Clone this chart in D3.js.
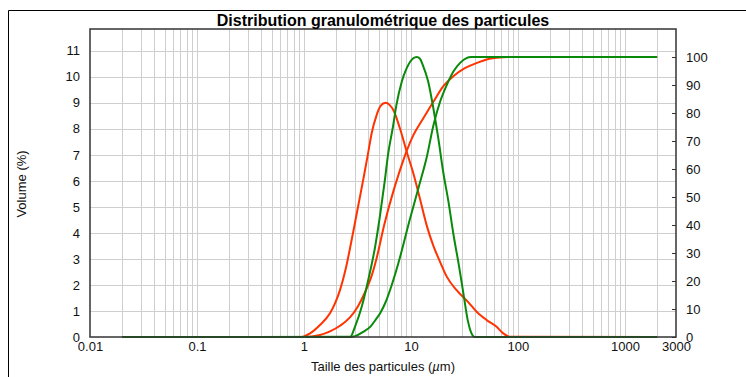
<!DOCTYPE html>
<html>
<head>
<meta charset="utf-8">
<script src="https://cdn.jsdelivr.net/npm/d3@7"></script>
<style>
  html, body { margin: 0; padding: 0; background: #fff; }
  svg { display: block; font-family: "Liberation Sans", Arial, Helvetica, sans-serif; }
</style>
</head>
<body>
<svg id="chart" width="746" height="377"></svg>
<script>
// Particle size (µm) vs. volume density (%) — red sample
const redDensity = [
  [0.02, 0], [0.95, 0], [1.14, 0.14], [1.41, 0.46], [1.75, 0.91], [1.95, 1.29],
  [2.17, 1.8], [2.45, 2.6], [2.69, 3.4], [3.0, 4.4], [3.34, 5.4], [3.6, 6.1],
  [3.95, 7.0], [4.3, 7.85], [4.75, 8.5], [5.2, 8.88], [5.8, 9.0], [6.3, 8.92],
  [6.84, 8.72], [7.88, 8.02], [9.12, 7.12], [10.5, 6.3], [12.1, 5.33], [14.0, 4.3],
  [16.2, 3.5], [18.7, 2.89], [21.6, 2.32], [26.7, 1.8], [34.3, 1.34], [41.1, 0.97],
  [51, 0.65], [63.2, 0.39], [72.9, 0.14], [84, 0.01], [2000, 0]
];
// Cumulative volume (%) — red sample
const redCumulative = [
  [0.02, 0], [1.0, 0], [1.41, 0.7], [1.75, 2.0], [2.17, 4.0], [2.69, 7.0],
  [3.18, 10.8], [3.7, 15.8], [4.3, 22], [4.8, 28.5], [5.62, 40], [6.84, 52],
  [7.88, 59.5], [9.12, 66.5], [10.5, 72], [13, 78], [16.2, 84], [20, 89.5],
  [25, 93.2], [31, 95.8], [36.3, 97], [42, 98], [51, 99.1], [63, 99.7],
  [80, 100], [2000, 100]
];
// Volume density (%) — green sample
const greenDensity = [
  [0.02, 0], [2.71, 0.01], [3.0, 0.4], [3.47, 1.17], [3.98, 2.18], [4.62, 3.46],
  [5.15, 4.7], [5.69, 6.0], [6.1, 7.0], [6.8, 8.1], [7.3, 8.9], [8.2, 9.81],
  [9.1, 10.32], [10.5, 10.71], [11.3, 10.76], [12.1, 10.7], [12.9, 10.45],
  [14.5, 9.81], [16.2, 8.78], [18.0, 7.64], [20.0, 6.35], [22.4, 5.2], [25.0, 3.92],
  [28.0, 2.77], [31.1, 1.6], [34.1, 0.6], [36.3, 0.2], [39.6, 0], [2000, 0]
];
// Cumulative volume (%) — green sample
const greenCumulative = [
  [0.02, 0], [2.7, 0], [3.0, 0.3], [3.58, 1.8], [4.2, 3.8], [4.7, 6.3],
  [5.15, 8.5], [5.8, 12.5], [6.6, 18.5], [7.9, 28.5], [9.6, 41], [11.9, 54],
  [14, 64], [16.2, 75.5], [18.7, 84], [21.6, 90], [25, 94.9], [28.8, 97.9],
  [33, 99.6], [36.3, 100], [2000, 100]
];

const sizeTicks = [0.01, 0.1, 1, 10, 100, 1000, 3000];
const volumeTicks = [0, 1, 2, 3, 4, 5, 6, 7, 8, 9, 10, 11];
const cumulativeTicks = [0, 10, 20, 30, 40, 50, 60, 70, 80, 90, 100];

const titleText = "Distribution granulométrique des particules";
const yTitle = "Volume (%)";

const svg = d3.select("#chart");
const plot = { left: 90, right: 676, top: 29, bottom: 337 };

// Outer panel edge
svg.append("path")
  .attr("d", `M8.5,377 V10.5 H746`)
  .attr("fill", "none").attr("stroke", "#000").attr("stroke-width", 1);

const densityMax = d3.max(greenDensity.concat(redDensity), d => d[1]);

const x = d3.scaleLog().domain([0.01, 3000]).range([plot.left, plot.right]);
const yL = d3.scaleLinear().domain([0, densityMax * 1.1]).range([plot.bottom, plot.top]);
const yR = d3.scaleLinear().domain([0, 110]).range([plot.bottom, plot.top]);

// Grid: every 1..9 × 10^k on the log axis
const gridX = [];
for (let e = -2; e <= 3; e++) {
  for (let m = 1; m <= 9; m++) {
    const v = m * Math.pow(10, e);
    if (v > 0.01 * 1.0001 && v < 3000 * 0.9999) gridX.push(v);
  }
}
const grid = svg.append("g").attr("stroke", "#cfcfcf").attr("stroke-width", 1);
grid.selectAll("line.v").data(gridX).join("line")
  .attr("class", "v")
  .attr("x1", d => Math.round(x(d)) + 0.5).attr("x2", d => Math.round(x(d)) + 0.5)
  .attr("y1", plot.top).attr("y2", plot.bottom);
grid.selectAll("line.h").data(volumeTicks.filter(d => d > 0)).join("line")
  .attr("class", "h")
  .attr("x1", plot.left).attr("x2", plot.right)
  .attr("y1", d => Math.round(yL(d)) + 0.5).attr("y2", d => Math.round(yL(d)) + 0.5);

// Curves
const line = d3.line()
  .x(d => x(d[0]))
  .curve(d3.curveMonotoneX);

const series = [
  { data: redDensity, y: yL, color: "#ff3300" },
  { data: redCumulative, y: yR, color: "#ff3300" },
  { data: greenDensity, y: yL, color: "#0a8a0a" },
  { data: greenCumulative, y: yR, color: "#0a8a0a" }
];
svg.append("g").selectAll("path").data(series).join("path")
  .attr("fill", "none")
  .attr("stroke", d => d.color)
  .attr("stroke-width", 2)
  .attr("stroke-linejoin", "round")
  .attr("d", d => line.y(p => d.y(p[1]))(d.data));

// Plot frame
svg.append("rect")
  .attr("x", plot.left).attr("y", plot.top)
  .attr("width", plot.right - plot.left).attr("height", plot.bottom - plot.top)
  .attr("fill", "none").attr("stroke", "#333").attr("stroke-width", 1.5);

// Left axis labels
const axisL = d3.axisLeft(yL).tickValues(volumeTicks).tickSize(0).tickPadding(10);
const gL = svg.append("g").attr("transform", `translate(${plot.left},0)`).call(axisL);
gL.select(".domain").remove();
gL.selectAll("text").attr("font-size", 13).attr("fill", "#111")
  .attr("font-family", "Liberation Sans, Arial, sans-serif");

// Right axis with short inward ticks
const axisR = d3.axisRight(yR).tickValues(cumulativeTicks).tickSize(-4).tickPadding(10);
const gR = svg.append("g").attr("transform", `translate(${plot.right},0)`).call(axisR);
gR.select(".domain").remove();
gR.selectAll(".tick line").attr("stroke", "#333");
gR.selectAll("text").attr("font-size", 13).attr("fill", "#111")
  .attr("font-family", "Liberation Sans, Arial, sans-serif");

// Bottom axis labels
const axisB = d3.axisBottom(x).tickValues(sizeTicks).tickFormat(d => String(d)).tickSize(0).tickPadding(5);
const gB = svg.append("g").attr("transform", `translate(0,${plot.bottom})`).call(axisB);
gB.select(".domain").remove();
gB.selectAll("text").attr("font-size", 13).attr("fill", "#111")
  .attr("font-family", "Liberation Sans, Arial, sans-serif");

// Titles
svg.append("text")
  .attr("x", (plot.left + plot.right) / 2).attr("y", 26)
  .attr("text-anchor", "middle").attr("font-size", 16).attr("font-weight", "bold")
  .attr("fill", "#000")
  .text(titleText);

const xt = svg.append("text")
  .attr("x", (plot.left + plot.right) / 2).attr("y", 371)
  .attr("text-anchor", "middle").attr("font-size", 13).attr("fill", "#111");
xt.append("tspan").text("Taille des particules (");
xt.append("tspan").attr("font-style", "italic").text("µ");
xt.append("tspan").text("m)");

svg.append("text")
  .attr("transform", `translate(26,${(plot.top + plot.bottom) / 2 + 1}) rotate(-90)`)
  .attr("text-anchor", "middle").attr("font-size", 13).attr("fill", "#111")
  .text(yTitle);
</script>
</body>
</html>
